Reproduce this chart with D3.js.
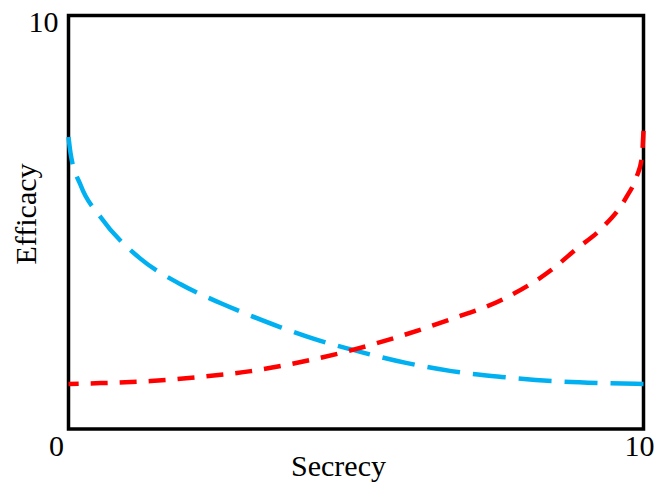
<!DOCTYPE html>
<html>
<head>
<meta charset="utf-8">
<script src="https://cdn.jsdelivr.net/npm/d3@7"></script>
<style>
  body { margin: 0; background: #fff; }
  text { font-family: "Liberation Serif", "Times New Roman", serif; fill: #000; }
</style>
</head>
<body>
<div id="chart"></div>
<script>
// secrecy values (x) and efficacy values (y)
var blueX = [0, 0.035, 0.21, 0.56, 1.25, 1.95, 2.65, 3.17, 3.69, 4.27, 5.09, 5.87, 6.66, 7.53, 8.40, 9.27, 10];
var blueY = [7.06, 6.67, 5.90, 5.12, 4.12, 3.50, 3.04, 2.74, 2.46, 2.18, 1.86, 1.60, 1.40, 1.26, 1.16, 1.11, 1.09];

var redX = [0, 0.56, 1.43, 2.30, 3.17, 4.04, 4.91, 5.78, 6.66, 7.53, 8.40, 8.83, 9.27, 9.70, 9.88, 9.97, 10];
var redY = [1.09, 1.11, 1.16, 1.26, 1.40, 1.62, 1.90, 2.25, 2.66, 3.12, 3.85, 4.35, 4.85, 5.60, 6.10, 6.55, 7.21];

var xTicks = [0, 10];
var yTicks = [10];

var width = 656, height = 484;
var margin = { top: 15.5, right: 12.5, bottom: 55, left: 68.5 };

var svg = d3.select("#chart").append("svg")
    .attr("width", width)
    .attr("height", height);

var x = d3.scaleLinear().domain([0, 10]).range([margin.left, width - margin.right]);
var y = d3.scaleLinear().domain([0, 10]).range([height - margin.bottom, margin.top]);

// Plot frame
svg.append("rect")
    .attr("x", x(0))
    .attr("y", y(10))
    .attr("width", x(10) - x(0))
    .attr("height", y(0) - y(10))
    .attr("fill", "none")
    .attr("stroke", "#000")
    .attr("stroke-width", 3.5);

// Tick labels
svg.selectAll(".xt")
    .data(xTicks)
    .enter()
    .append("text")
    .attr("class", "xt")
    .attr("x", function (d) { return d == 0 ? x(d) - 12 : x(d) - 4; })
    .attr("y", y(0) + 27)
    .attr("text-anchor", "middle")
    .style("font-size", "30px")
    .text(function (d) { return d; });

svg.selectAll(".yt")
    .data(yTicks)
    .enter()
    .append("text")
    .attr("class", "yt")
    .attr("x", x(0) - 10)
    .attr("y", y(10) + 16.5)
    .attr("text-anchor", "end")
    .style("font-size", "30px")
    .text(function (d) { return d; });

// Axis titles
svg.append("text")
    .attr("x", 338.5)
    .attr("y", 476)
    .attr("text-anchor", "middle")
    .style("font-size", "30px")
    .text("Secrecy");

svg.append("text")
    .attr("transform", "translate(36,214) rotate(-90)")
    .attr("text-anchor", "middle")
    .style("font-size", "30px")
    .text("Efficacy");

// Curves (drawn right to left so the dash pattern starts at the right edge)
var line = d3.line()
    .x(function (d) { return x(d[0]); })
    .y(function (d) { return y(d[1]); })
    .curve(d3.curveMonotoneX);

var bluePts = blueX.map(function (v, i) { return [v, blueY[i]]; }).reverse();
var redPts = redX.map(function (v, i) { return [v, redY[i]]; }).reverse();

svg.append("path")
    .attr("d", line(bluePts))
    .attr("fill", "none")
    .attr("stroke", "#00b0f0")
    .attr("stroke-width", 4.5)
    .attr("stroke-dasharray", "33,13");

svg.append("path")
    .attr("d", line(redPts))
    .attr("fill", "none")
    .attr("stroke", "#ff0000")
    .attr("stroke-width", 4.5)
    .attr("stroke-dasharray", "17,12");
</script>
</body>
</html>
